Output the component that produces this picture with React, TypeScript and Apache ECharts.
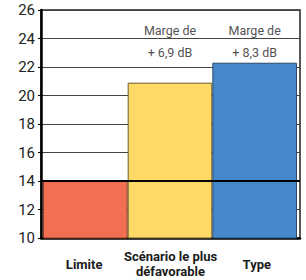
import React, { useEffect, useRef } from "react";
import * as echarts from "echarts";

const categories = ["Limite", "Scénario le plus\ndéfavorable", "Type"];
const levels = [14, 20.9, 22.3];
const barColors = ["#F27052", "#FFD966", "#4589CA"];
const barBorders = ["#8A3A22", "#6B5A2A", "#2A4A6A"];
const limitLevel = 14;
const yTicks = { min: 10, max: 26, interval: 2 };
const marginHeader = ["", "Marge de", "Marge de"];
const marginText = ["", "+ 6,9 dB", "+ 8,3 dB"];
const headerLevel = 24.55;
const textLevel = 23.05;

const FONT = "Roboto, 'Liberation Sans', sans-serif";

export default function App() {
  const ref = useRef<HTMLDivElement>(null);
  useEffect(() => {
    if (!ref.current) return;
    const chart = echarts.init(ref.current, null, { renderer: "svg" });
    const headerData: any[] = [];
    const textData: any[] = [];
    categories.forEach((c, i) => {
      if (marginHeader[i]) headerData.push({ value: [i, headerLevel], label: { formatter: marginHeader[i] } });
      if (marginText[i]) textData.push({ value: [i, textLevel], label: { formatter: marginText[i] } });
    });
    const annLabel = {
      show: true,
      position: "inside",
      color: "#222",
      fontFamily: FONT,
      fontSize: 12.5,
    };
    chart.setOption({
      animation: false,
      backgroundColor: "#fff",
      grid: [
        {
          left: 41, right: 6, top: 10, bottom: 42,
          show: true, borderColor: "#222", borderWidth: 1.5, backgroundColor: "#fff",
          containLabel: false, outerBoundsMode: "none",
        },
        { left: 43, right: 9, top: 10, bottom: 42, containLabel: false, outerBoundsMode: "none" },
      ],
      xAxis: [
        {
          type: "category",
          gridIndex: 0,
          data: categories,
          axisLine: { show: true, lineStyle: { color: "#000", width: 2.5 } },
          axisTick: { show: false },
          axisLabel: {
            margin: 26,
            verticalAlign: "middle",
            lineHeight: 15,
            color: "#1a1a1a",
            fontFamily: FONT,
            fontWeight: "bold",
            fontSize: 13,
            interval: 0,
          },
        },
        {
          type: "category",
          gridIndex: 1,
          data: categories,
          show: false,
        },
      ],
      yAxis: [
        {
          type: "value",
          gridIndex: 0,
          min: yTicks.min,
          max: yTicks.max,
          interval: yTicks.interval,
          axisLine: { show: true, lineStyle: { color: "#000", width: 2.5 } },
          axisTick: { show: true, length: 3, lineStyle: { color: "#000" } },
          axisLabel: { color: "#222", fontFamily: FONT, fontSize: 15, margin: 6 },
          splitLine: { show: true, lineStyle: { color: "#444", width: 1 } },
        },
        {
          type: "value",
          gridIndex: 1,
          min: yTicks.min,
          max: yTicks.max,
          interval: yTicks.interval,
          show: false,
          splitLine: { show: false },
        },
      ],
      series: [
        {
          type: "bar",
          xAxisIndex: 1,
          yAxisIndex: 1,
          barCategoryGap: "0%",
          data: levels.map((v, i) => ({
            value: v,
            itemStyle: { color: barColors[i], borderColor: barBorders[i], borderWidth: 1 },
          })),
          z: 3,
        },
        {
          type: "line",
          xAxisIndex: 0,
          yAxisIndex: 0,
          data: [],
          z: 10,
          markLine: {
            silent: true,
            symbol: "none",
            label: { show: false },
            lineStyle: { color: "#000", width: 2, type: "solid" },
            data: [{ yAxis: limitLevel }],
            z: 10,
          },
        },
        {
          type: "scatter",
          xAxisIndex: 1,
          yAxisIndex: 1,
          symbolSize: 0,
          data: headerData,
          label: annLabel,
          z: 5,
        },
        {
          type: "scatter",
          xAxisIndex: 1,
          yAxisIndex: 1,
          symbolSize: 0,
          data: textData,
          label: annLabel,
          z: 5,
        },
      ],
    });
    return () => chart.dispose();
  }, []);
  return (
    <div
      ref={ref}
      style={{ position: "fixed", left: 0, top: 0, width: 306, height: 280 }}
    />
  );
}
